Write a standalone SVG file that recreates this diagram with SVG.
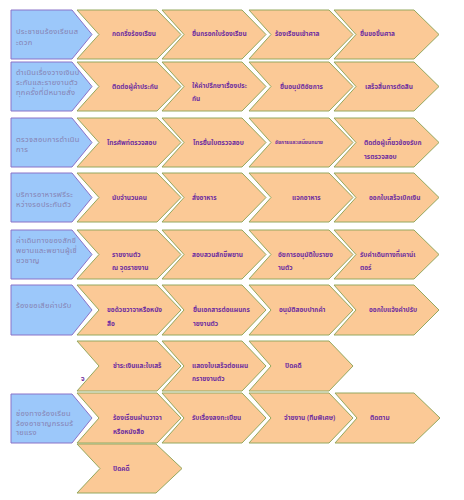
<svg xmlns="http://www.w3.org/2000/svg" width="464" height="500" viewBox="0 0 464 500">
<style>
.blue{fill:#9CC8FA;stroke:#8A72C8;stroke-width:1}
.chev{fill:#FBC996;stroke:#95A85E;stroke-width:1}
.bt{font-family:"Noto Sans Thai","Noto Sans","DejaVu Sans",sans-serif;font-size:7.5px;fill:#8682B2;letter-spacing:0.3px}
.ct{font-family:"Noto Sans Thai","Noto Sans","DejaVu Sans",sans-serif;font-size:6.5px;font-weight:bold;fill:#7030A0}
.cs{font-size:5px}
</style>
<rect width="464" height="500" fill="#FFFFFF"/>
<g id="connectors"/>
<!-- Row 1 -->
<g id="r1-head"><polygon class="blue" points="11,10 72,10 92,34.5 72,59 11,59"/><text class="bt" x="16" y="34">ประชาชนร้องเรียนส</text><text class="bt" x="16" y="45">ะดวก</text></g>
<g id="r1-c1"><polygon class="chev" points="77,10 157,10 181,34.5 157,59 77,59 99,34.5"/><text class="ct" x="112" y="36">กดกริ่งร้องเรียน</text></g>
<g id="r1-c2"><polygon class="chev" points="162,10 242,10 266,34.5 242,59 162,59 184,34.5"/><text class="ct" x="192" y="36">ยื่นกรอกใบร้องเรียน</text></g>
<g id="r1-c3"><polygon class="chev" points="249,10 329,10 353,34.5 329,59 249,59 271,34.5"/><text class="ct" x="275" y="36">ร้องเรียนเข้าศาล</text></g>
<g id="r1-c4"><polygon class="chev" points="334,10 414,10 439,34.5 414,59 334,59 356,34.5"/><text class="ct" x="360" y="36">ยื่นขอขึ้นศาล</text></g>
<!-- Row 2 -->
<g id="r2-head"><polygon class="blue" points="11,62 72,62 92,86.5 72,111 11,111"/><text class="bt" x="16" y="75">ดำเนินเรื่องวางเงินป</text><text class="bt" x="16" y="85">ระกันและรายงานตัว</text><text class="bt" x="16" y="95">ทุกครั้งที่มีหมายสั่ง</text></g>
<g id="r2-c1"><polygon class="chev" points="77,62 157,62 181,86.5 157,111 77,111 99,86.5"/><text class="ct" x="112" y="88.5">ติดต่อผู้ค้ำประกัน</text></g>
<g id="r2-c2"><polygon class="chev" points="162,62 242,62 266,86.5 242,111 162,111 184,86.5"/><text class="ct" x="192" y="87.5">ให้คำปรึกษาเรื่องประ</text><text class="ct" x="192" y="100.5">กัน</text></g>
<g id="r2-c3"><polygon class="chev" points="249,62 329,62 353,86.5 329,111 249,111 271,86.5"/><text class="ct" x="280" y="88.5">ยื่นอนุมัติอัยการ</text></g>
<g id="r2-c4"><polygon class="chev" points="334,62 414,62 439,86.5 414,111 334,111 356,86.5"/><text class="ct" x="365" y="88.5">เสร็จสิ้นการตัดสิน</text></g>
<!-- Row 3 -->
<g id="r3-head"><polygon class="blue" points="11,118 72,118 92,142.5 72,167 11,167"/><text class="bt" x="16" y="142">ตรวจสอบการดำเนิน</text><text class="bt" x="16" y="152">การ</text></g>
<g id="r3-c1"><polygon class="chev" points="77,118 157,118 181,142.5 157,167 77,167 99,142.5"/><text class="ct" x="107" y="144.5">โทรศัพท์ตรวจสอบ</text></g>
<g id="r3-c2"><polygon class="chev" points="162,118 242,118 266,142.5 242,167 162,167 184,142.5"/><text class="ct" x="193" y="144.5">โทรยื่นใบตรวจสอบ</text></g>
<g id="r3-c3"><polygon class="chev" points="249,118 329,118 353,142.5 329,167 249,167 271,142.5"/><text class="ct cs" x="275" y="143.5">อัยการและเสมียนทนาย</text></g>
<g id="r3-c4"><polygon class="chev" points="334,118 414,118 439,142.5 414,167 334,167 356,142.5"/><text class="ct" x="364" y="144.5">ติดต่อผู้เกี่ยวข้องรับก</text><text class="ct" x="364" y="158.5">ารตรวจสอบ</text></g>
<!-- Row 4 -->
<g id="r4-head"><polygon class="blue" points="11,173 72,173 92,197.5 72,222 11,222"/><text class="bt" x="16" y="197">บริการอาหารฟรีระ</text><text class="bt" x="16" y="207">หว่างรอประกันตัว</text></g>
<g id="r4-c1"><polygon class="chev" points="77,173 157,173 181,197.5 157,222 77,222 99,197.5"/><text class="ct" x="112" y="199.5">นับจำนวนคน</text></g>
<g id="r4-c2"><polygon class="chev" points="162,173 242,173 266,197.5 242,222 162,222 184,197.5"/><text class="ct" x="192" y="199.5">สั่งอาหาร</text></g>
<g id="r4-c3"><polygon class="chev" points="249,173 329,173 353,197.5 329,222 249,222 271,197.5"/><text class="ct" x="292" y="199.5">แจกอาหาร</text></g>
<g id="r4-c4"><polygon class="chev" points="334,173 414,173 439,197.5 414,222 334,222 356,197.5"/><text class="ct" x="369" y="199.5">ออกใบเสร็จเบิกเงิน</text></g>
<!-- Row 5 -->
<g id="r5-head"><polygon class="blue" points="11,230 72,230 92,254.5 72,279 11,279"/><text class="bt" x="16" y="243">ค่าเดินทางของสักขี</text><text class="bt" x="16" y="253">พยานและพยานผู้เชี่</text><text class="bt" x="16" y="263">ยวชาญ</text></g>
<g id="r5-c1"><polygon class="chev" points="77,230 157,230 181,254.5 157,279 77,279 99,254.5"/><text class="ct" x="112" y="256.5">รายงานตัว</text><text class="ct" x="112" y="269.5">ณ จุดรายงาน</text></g>
<g id="r5-c2"><polygon class="chev" points="162,230 242,230 266,254.5 242,279 162,279 184,254.5"/><text class="ct" x="192" y="256.5">สอบสวนสักขีพยาน</text></g>
<g id="r5-c3"><polygon class="chev" points="249,230 329,230 353,254.5 329,279 249,279 271,254.5"/><text class="ct" x="278" y="256.5">อัยการอนุมัติใบรายง</text><text class="ct" x="278" y="269.5">านตัว</text></g>
<g id="r5-c4"><polygon class="chev" points="334,230 414,230 439,254.5 414,279 334,279 356,254.5"/><text class="ct" x="360" y="256.5">รับค่าเดินทางที่เคาน์เ</text><text class="ct" x="360" y="269.5">ตอร์</text></g>
<!-- Row 6 -->
<g id="r6-head"><polygon class="blue" points="11,285 72,285 92,310 72,335 11,335"/><text class="bt" x="16" y="308">ร้องขอเสียค่าปรับ</text></g>
<g id="r6-c1"><polygon class="chev" points="77,285 157,285 181,310 157,335 77,335 99,310"/><text class="ct" x="107" y="311.5">ขอด้วยวาจาหรือหนัง</text><text class="ct" x="107" y="325.5">สือ</text></g>
<g id="r6-c2"><polygon class="chev" points="162,285 242,285 266,310 242,335 162,335 184,310"/><text class="ct" x="193" y="311.5">ยื่นเอกสารต่อแผนกร</text><text class="ct" x="193" y="325.5">ายงานตัว</text></g>
<g id="r6-c3"><polygon class="chev" points="249,285 329,285 353,310 329,335 249,335 271,310"/><text class="ct" x="279" y="312">อนุมัติสอบปากคำ</text></g>
<g id="r6-c4"><polygon class="chev" points="334,285 414,285 439,310 414,335 334,335 356,310"/><text class="ct" x="369" y="312">ออกใบแจ้งค่าปรับ</text></g>
<!-- Row 7 -->
<g id="r7-c1"><polygon class="chev" points="77,341 157,341 181,366 157,391 77,391 99,366"/><text class="ct" x="113" y="368">ชำระเงินและใบเสร็</text><text class="ct" x="81" y="380.5">จ</text></g>
<g id="r7-c2"><polygon class="chev" points="162,341 242,341 266,366 242,391 162,391 184,366"/><text class="ct" x="192" y="367.5">แสดงใบเสร็จต่อแผน</text><text class="ct" x="192" y="380.5">กรายงานตัว</text></g>
<g id="r7-c3"><polygon class="chev" points="249,341 329,341 353,366 329,391 249,391 271,366"/><text class="ct" x="285" y="368">ปิดคดี</text></g>
<!-- Row 8 -->
<g id="r8-head"><polygon class="blue" points="11,394 72,394 92,418 72,443 11,443"/><text class="bt" x="16" y="416">ช่องทางร้องเรียน</text><text class="bt" x="16" y="425.5">ร้องอาชาญกรรมร้</text><text class="bt" x="16" y="435">ายแรง</text></g>
<g id="r8-c1"><polygon class="chev" points="77,393 157,393 181,418 157,443 77,443 99,418"/><text class="ct" x="113" y="419.5">ร้องเรียนผ่านวาจา</text><text class="ct" x="113" y="433.5">หรือหนังสือ</text></g>
<g id="r8-c2"><polygon class="chev" points="162,393 242,393 266,418 242,443 162,443 184,418"/><text class="ct" x="192" y="420">รับเรื่องลงทะเบียน</text></g>
<g id="r8-c3"><polygon class="chev" points="249,393 329,393 353,418 329,443 249,443 271,418"/><text class="ct" x="284" y="420">จ่ายงาน (ทีมพิเศษ)</text></g>
<g id="r8-c4"><polygon class="chev" points="335,393 414,393 440,418 414,443 335,443 357,418"/><text class="ct" x="370" y="420">ติดตาม</text></g>
<!-- Row 9 -->
<g id="r9-c1"><polygon class="chev" points="77,444 156,444 182,468.5 156,493 77,493 100,468.5"/><text class="ct" x="113" y="470.5">ปิดคดี</text></g>
</svg>
